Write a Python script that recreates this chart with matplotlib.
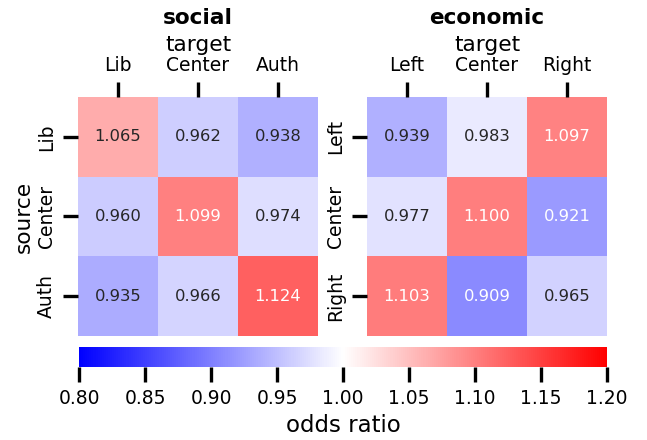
import numpy as np
import matplotlib
matplotlib.use("Agg")
import matplotlib.pyplot as plt
from matplotlib import colors as mcolors

social_labels = ["Lib", "Center", "Auth"]
social_values = [[1.065, 0.962, 0.938],
                 [0.960, 1.099, 0.974],
                 [0.935, 0.966, 1.124]]
economic_labels = ["Left", "Center", "Right"]
economic_values = [[0.939, 0.983, 1.097],
                   [0.977, 1.100, 0.921],
                   [1.103, 0.909, 0.965]]
cbar_ticks = [0.80, 0.85, 0.90, 0.95, 1.00, 1.05, 1.10, 1.15, 1.20]

W, H = 647, 440
fig = plt.figure(figsize=(W / 100, H / 100), dpi=100)
cmap = plt.get_cmap("bwr")
norm = mcolors.Normalize(vmin=0.8, vmax=1.2)

TICK_FS = 13.5
LABEL_FS = 15.6
ANNOT_FS = 11.8

def lum(c):
    rgb = np.array(c[:3])
    rgb = np.where(rgb <= .03928, rgb / 12.92, ((rgb + .055) / 1.055) ** 2.4)
    return .2126 * rgb[0] + .7152 * rgb[1] + .0722 * rgb[2]

def draw(ax, vals, labels, title, ylabel):
    arr = np.array(vals)
    im = ax.pcolormesh(arr, cmap=cmap, norm=norm)
    ax.set_xlim(0, 3)
    ax.set_ylim(3, 0)
    for i in range(3):
        for j in range(3):
            c = cmap(norm(arr[i, j]))
            tc = ".15" if lum(c) > .408 else "w"
            ax.text(j + .5, i + .5, f"{arr[i, j]:.3f}", ha="center", va="center",
                    fontsize=ANNOT_FS, color=tc)
    ax.xaxis.tick_top()
    ax.xaxis.set_label_position("top")
    ax.set_xticks(np.arange(3) + .5)
    ax.set_xticklabels(labels, fontsize=TICK_FS)
    ax.set_yticks(np.arange(3) + .5)
    ax.set_yticklabels(labels, fontsize=TICK_FS, rotation=90, va="center")
    ax.tick_params(length=11, width=2.4, pad=5)
    ax.set_xlabel("target", fontsize=LABEL_FS, labelpad=3.2)
    if ylabel:
        ax.set_ylabel(ylabel, fontsize=LABEL_FS, labelpad=2)
    ax.set_title(title, fontsize=LABEL_FS, fontweight="bold", pad=8)
    for s in ax.spines.values():
        s.set_visible(False)
    return im

ax1 = fig.add_axes([78 / W, 1 - 336 / H, 240 / W, 239 / H])
ax2 = fig.add_axes([367 / W, 1 - 336 / H, 240 / W, 239 / H])
im = draw(ax1, social_values, social_labels, "social", "source")
draw(ax2, economic_values, economic_labels, "economic", None)

cax = fig.add_axes([79 / W, 1 - 367 / H, 528 / W, 20 / H])
cb = fig.colorbar(im, cax=cax, orientation="horizontal")
cb.outline.set_visible(False)
cb.set_ticks(cbar_ticks)
cb.set_ticklabels([f"{t:.2f}" for t in cbar_ticks])
cax.tick_params(length=11, width=2.4, pad=5, labelsize=TICK_FS)
cb.set_label("odds ratio", fontsize=16.5, labelpad=4)

fig.savefig("out.png", dpi=100)
